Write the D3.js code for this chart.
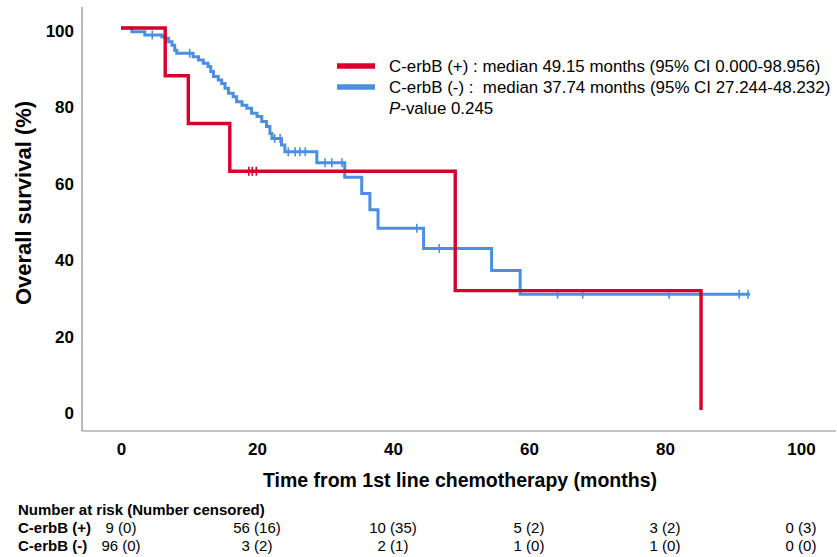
<!DOCTYPE html>
<html><head><meta charset="utf-8">
<script src="https://cdn.jsdelivr.net/npm/d3@7"></script>
<style>
body{margin:0;background:#fff;}
svg{display:block;font-family:"Liberation Sans",Arial,sans-serif;}
</style></head>
<body>
<svg id="chart" width="837" height="557"></svg>
<script>
// ---------- data ----------
const xTicks = [0, 20, 40, 60, 80, 100];
const yTicks = [0, 20, 40, 60, 80, 100];

// C-erbB (+) step points [months, survival %]
const posTimes  = [0, 6.5, 9.9, 16.0, 49.15, 85.3];
const posSurv   = [100, 87.5, 75.0, 62.5, 31.25, 0];
const posCensor = [18.8, 19.3, 19.9];

// C-erbB (-) step points
const negTimes = [0, 1.6, 3.5, 6.0, 6.5, 7.0, 7.5, 7.9, 8.2, 10.6, 11.4, 12.1, 12.8, 13.2, 13.6, 14.3, 14.8, 15.3, 15.8, 16.5, 17.0, 17.8, 18.5, 19.2, 20.0, 20.7, 21.4, 21.9, 22.2, 23.6, 24.1, 28.8, 32.9, 35.4, 36.6, 37.8, 44.5, 54.5, 58.7, 92.5];
const negSurv  = [100, 99.0, 98.2, 97.7, 97.3, 96.4, 95.5, 94.2, 93.4, 92.5, 91.6, 90.8, 89.9, 88.6, 87.3, 86.4, 85.5, 84.2, 82.9, 82.0, 80.7, 79.8, 79.0, 77.7, 76.8, 75.5, 74.2, 72.4, 71.1, 69.4, 67.6, 64.7, 60.9, 56.7, 52.4, 47.6, 42.3, 36.5, 30.3, 30.3];
const negCensor = [4.6, 10.1, 22.6, 23.4, 24.6, 25.6, 26.3, 27.1, 30.0, 31.0, 32.5, 43.5, 46.8, 64.2, 67.9, 80.6, 90.9, 92.2];

const seriesNames = ["C-erbB (+) : median 49.15 months (95% CI 0.000-98.956)",
                     "C-erbB (-) :  median 37.74 months (95% CI 27.244-48.232)"];
const seriesColors = ["#d6002c", "#4a8fe2"];

const riskGroups = ["C-erbB (+)", "C-erbB (-)"];
const riskPos = ["9 (0)", "56 (16)", "10 (35)", "5 (2)", "3 (2)", "0 (3)"];
const riskNeg = ["96 (0)", "3 (2)", "2 (1)", "1 (0)", "1 (0)", "0 (0)"];

// ---------- layout ----------
const svg = d3.select("#chart");
const x = d3.scaleLinear().domain([0, 100]).range([121, 801]);
const y = d3.scaleLinear().domain([0, 100]).range([410, 28]);
const frameLeft = 82, frameBottom = 431, frameTop = 7, frameRight = 836;

// frame lines
svg.append("line").attr("x1", frameLeft).attr("x2", frameLeft).attr("y1", frameTop).attr("y2", frameBottom)
  .attr("stroke", "#8a8a8a").attr("stroke-width", 1.2);
svg.append("line").attr("x1", frameLeft).attr("x2", frameRight).attr("y1", frameBottom).attr("y2", frameBottom)
  .attr("stroke", "#8a8a8a").attr("stroke-width", 1.2);

// axes
const xAxis = svg.append("g").attr("transform", `translate(0,${frameBottom})`)
  .call(d3.axisBottom(x).tickValues(xTicks).tickSize(0).tickPadding(12).tickFormat(d3.format("d")));
const yAxis = svg.append("g").attr("transform", `translate(${frameLeft},0)`)
  .call(d3.axisLeft(y).tickValues(yTicks).tickSize(0).tickPadding(8).tickFormat(d3.format("d")));
[xAxis, yAxis].forEach(g => {
  g.select(".domain").remove();
  g.selectAll("text").attr("font-family", "Liberation Sans, Arial, sans-serif")
    .attr("font-size", 17).attr("font-weight", "bold").attr("fill", "#000");
});
yAxis.selectAll("text").attr("dy", "0.5em");

// axis titles
svg.append("text").attr("x", 460).attr("y", 487).attr("text-anchor", "middle")
  .attr("font-size", 19.5).attr("font-weight", "bold").text("Time from 1st line chemotherapy (months)");
svg.append("text").attr("transform", "translate(31,203) rotate(-90)").attr("text-anchor", "middle")
  .attr("font-size", 22).attr("font-weight", "bold").text("Overall survival (%)");

// curves
const line = d3.line().x(d => x(d[0])).y(d => y(d[1])).curve(d3.curveStepAfter);
const negData = negTimes.map((t, i) => [t, negSurv[i]]);
const posData = posTimes.map((t, i) => [t, posSurv[i]]);

function survAt(times, surv, t) {
  const i = d3.bisectRight(times, t) - 1;
  return surv[Math.max(0, i)];
}

function drawSeries(data, times, surv, censors, color, width) {
  svg.append("path").datum(data).attr("d", line).attr("fill", "none")
    .attr("stroke", color).attr("stroke-width", width).attr("stroke-linejoin", "miter");
  svg.append("g").selectAll("line").data(censors).join("line")
    .attr("x1", d => x(d)).attr("x2", d => x(d))
    .attr("y1", d => y(survAt(times, surv, d)) - 4.5)
    .attr("y2", d => y(survAt(times, surv, d)) + 4.5)
    .attr("stroke", color).attr("stroke-width", 1.6);
}
drawSeries(negData, negTimes, negSurv, negCensor, seriesColors[1], 3);
drawSeries(posData, posTimes, posSurv, posCensor, seriesColors[0], 3.4);

// legend
const leg = svg.append("g");
const lfs = 16.9;
seriesNames.forEach((name, i) => {
  const yy = 66 + i * 21;
  leg.append("line").attr("x1", 337).attr("x2", 375).attr("y1", yy).attr("y2", yy)
    .attr("stroke", seriesColors[i]).attr("stroke-width", 5.5);
  leg.append("text").attr("x", 389).attr("y", yy + 6).attr("font-size", lfs)
    .style("white-space", "pre").text(name);
});
const pv = leg.append("text").attr("x", 389).attr("y", 66 + 2 * 21 + 6).attr("font-size", lfs);
pv.append("tspan").attr("font-style", "italic").text("P");
pv.append("tspan").text("-value 0.245");

// risk table
const tfs = 15;
svg.append("text").attr("x", 18).attr("y", 515).attr("font-size", tfs).attr("font-weight", "bold")
  .text("Number at risk (Number censored)");
[riskPos, riskNeg].forEach((row, r) => {
  const yy = 533 + r * 18;
  svg.append("text").attr("x", 18).attr("y", yy).attr("font-size", tfs).attr("font-weight", "bold")
    .text(riskGroups[r]);
  svg.append("g").selectAll("text").data(row).join("text")
    .attr("x", (d, i) => x(xTicks[i])).attr("y", yy).attr("text-anchor", "middle")
    .attr("font-size", tfs).text(d => d);
});
</script>
</body></html>
